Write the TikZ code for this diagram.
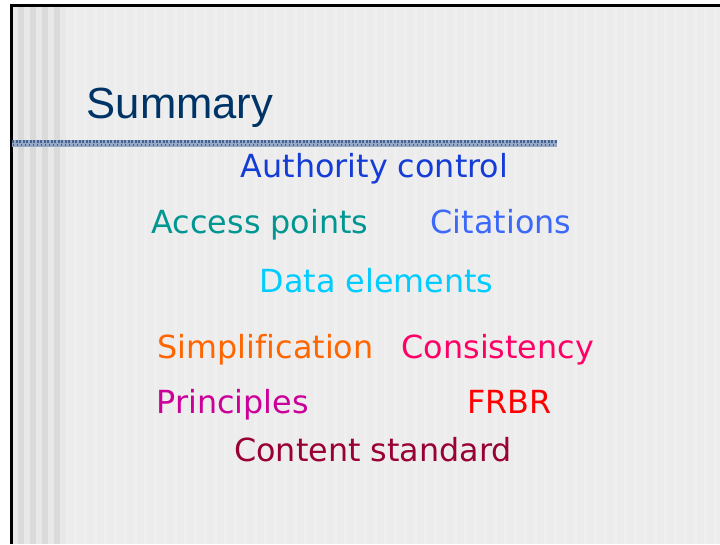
\documentclass[tikz,border=0pt]{standalone}
\usepackage{fontspec}
\setmainfont{DejaVu Sans}[Ligatures=NoCommon]
\newfontfamily\titlefont{Liberation Sans}
\definecolor{bgtex}{RGB}{236,236,236}
\definecolor{stripeA}{RGB}{232,232,232}
\definecolor{stripeB}{RGB}{218,218,218}
\definecolor{ruleA}{RGB}{150,170,200}
\definecolor{ruleB}{RGB}{70,100,145}
\definecolor{ctitle}{RGB}{0,51,102}
\definecolor{cauth}{RGB}{20,60,215}
\definecolor{caccess}{RGB}{0,150,145}
\definecolor{ccit}{RGB}{60,105,250}
\definecolor{cdata}{RGB}{0,204,255}
\definecolor{csimp}{RGB}{255,102,0}
\definecolor{ccons}{RGB}{255,0,102}
\definecolor{cprin}{RGB}{204,0,153}
\definecolor{cfrbr}{RGB}{255,0,0}
\definecolor{ccont}{RGB}{153,0,51}
\begin{document}
\begin{tikzpicture}[x=1pt,y=-1pt,
  word/.style={anchor=base west,inner sep=0pt,font=\fontsize{31.8}{38}\selectfont},
  titletext/.style={anchor=base west,inner sep=0pt,font=\titlefont\fontsize{43.6}{50}\selectfont,text=ctitle}]
\useasboundingbox (0,0) rectangle (720,544);
\fill[white] (0,0) rectangle (720,544);
% textured background
\fill[bgtex] (12,6) rectangle (720,544);
\foreach \i in {0,...,65} {
  \fill[white,opacity=0.18] (64+\i*10,6) rectangle (67+\i*10,544);
}
% left stripes
\foreach \i in {0,2,4,6,8} {
  \fill[stripeA] (12+\i*6,6) rectangle (18+\i*6,544);
}
\foreach \i in {1,3,5,7} {
  \fill[stripeB] (12+\i*6,6) rectangle (18+\i*6,544);
}
% borders
\fill[black] (10,4) rectangle (720,6.5);
\fill[black] (10,4) rectangle (12.5,544);
% title rule
\fill[ruleA] (12,139.5) rectangle (557,146.5);
\draw[ruleB,line width=3pt,dash pattern=on 2pt off 1.5pt] (12,141.5) -- (557,141.5);
\draw[ruleB,line width=1.5pt,dash pattern=on 1pt off 3pt] (13,145) -- (557,145);
% title
\node[titletext] (title) at (86.5,118.5) {Summary};
% words
\node[word,text=cauth] (auth) at (240.5,177.5) {Authority control};
\node[word,text=caccess] (access) at (151.5,233.5) {Access points};
\node[word,text=ccit] (cit) at (430.5,233.5) {Citations};
\node[word,text=cdata] (data) at (259.5,292) {Data elements};
\node[word,text=csimp] (simp) at (157.5,358.5) {Simplification};
\node[word,text=ccons] (cons) at (401.5,358.5) {Consistency};
\node[word,text=cprin] (prin) at (156.5,413) {Principles};
\node[word,text=cfrbr] (frbr) at (467,413) {FRBR};
\node[word,text=ccont] (cont) at (234,461) {Content standard};
\end{tikzpicture}
\end{document}
